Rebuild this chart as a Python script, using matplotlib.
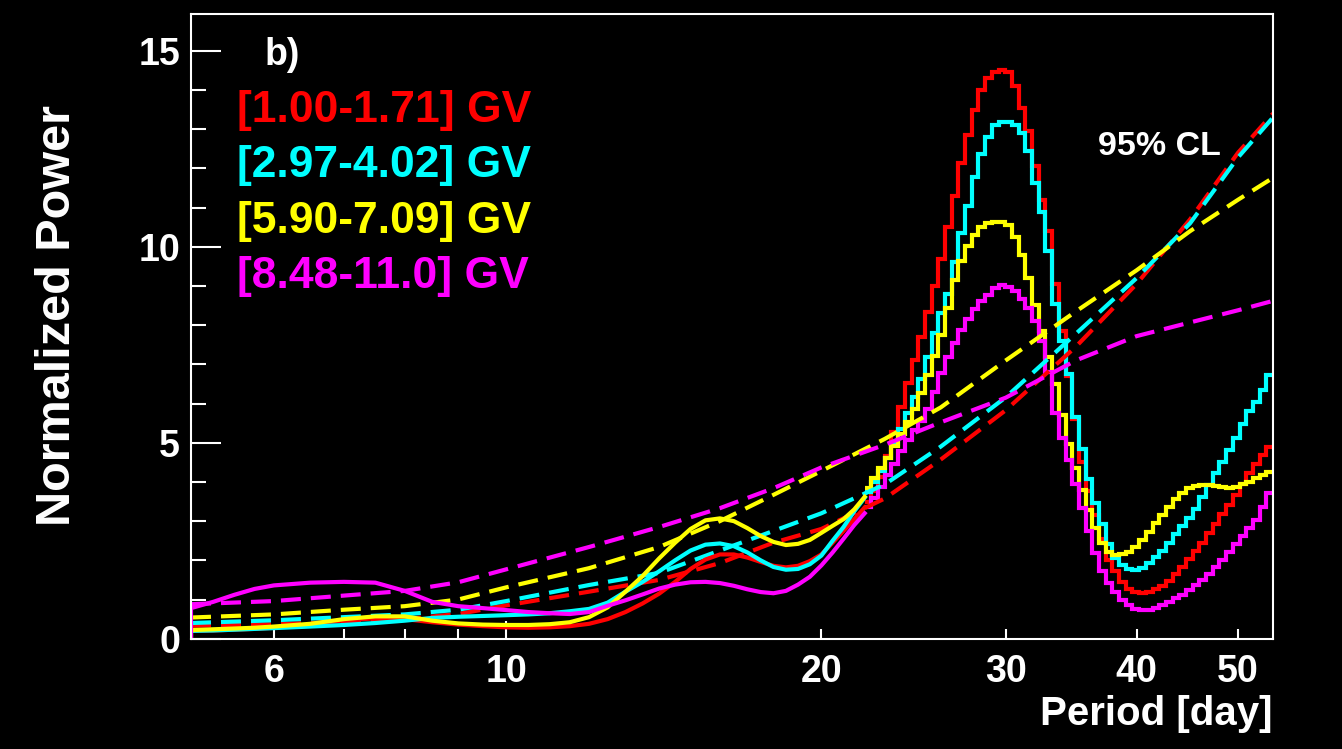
import numpy as np
import matplotlib
matplotlib.use('Agg')
import matplotlib.pyplot as plt
from matplotlib.ticker import FixedLocator, FixedFormatter, NullFormatter

plt.rcParams['font.family'] = ['Liberation Sans', 'DejaVu Sans']
plt.rcParams['font.weight'] = 'bold'

"""-------------------------------- Data -----------------------------------------------"""

labels = ['[1.00-1.71] GV', '[2.97-4.02] GV', '[5.90-7.09] GV', '[8.48-11.0] GV']
colors = ['#ff0000', '#00ffff', '#ffff00', '#ff00ff']

# short periods (smooth part of the periodogram), days
period_lo = [5.0, 5.25, 5.5, 5.75, 6.0, 6.5, 7.0, 7.5, 8.0, 8.5, 9.0, 9.5, 10, 10.5,
             11, 11.5, 12, 12.5, 13, 13.5, 14, 14.5, 15, 15.5, 16, 16.5, 17, 17.5,
             18, 18.5, 19, 19.5, 20, 20.5, 21, 21.5, 22.0]

red_lo = [0.2, 0.21, 0.23, 0.25, 0.28, 0.36, 0.47, 0.52, 0.5, 0.42, 0.36, 0.32, 0.29, 0.28,
          0.29, 0.32, 0.38, 0.5, 0.68, 0.9, 1.15, 1.45, 1.78, 2.02, 2.15, 2.15, 2.07, 1.96,
          1.86, 1.82, 1.86, 1.98, 2.15, 2.45, 2.75, 3.05, 3.35]
cyan_lo = [0.2, 0.21, 0.23, 0.25, 0.27, 0.31, 0.35, 0.4, 0.46, 0.53, 0.56, 0.58, 0.6, 0.62,
           0.65, 0.7, 0.76, 0.92, 1.2, 1.45, 1.72, 2.0, 2.25, 2.4, 2.43, 2.36, 2.2, 2.0,
           1.83, 1.76, 1.78, 1.9, 2.12, 2.5, 2.85, 3.25, 3.6]
yellow_lo = [0.22, 0.24, 0.26, 0.28, 0.31, 0.38, 0.5, 0.57, 0.57, 0.46, 0.39, 0.36, 0.35, 0.35,
             0.37, 0.42, 0.55, 0.8, 1.2, 1.6, 2.05, 2.45, 2.8, 3.02, 3.07, 3.0, 2.82, 2.62,
             2.47, 2.39, 2.42, 2.52, 2.7, 2.88, 3.05, 3.3, 3.62]
magenta_lo = [0.78, 0.94, 1.12, 1.27, 1.36, 1.43, 1.45, 1.43, 1.22, 0.94, 0.83, 0.78, 0.73, 0.68,
              0.65, 0.63, 0.68, 0.84, 0.98, 1.13, 1.28, 1.38, 1.44, 1.45, 1.42, 1.35, 1.26, 1.19,
              1.16, 1.22, 1.38, 1.58, 1.87, 2.2, 2.55, 2.9, 3.2]

# long periods: 61 log-spaced histogram bins between 22 and 54 days
bin_edges = np.logspace(np.log10(22.0), np.log10(54.0), 62)

red_hi = [3.48, 3.78, 4.12, 4.65, 5.28, 5.92, 6.52, 7.1, 7.7, 8.33,
          8.99, 9.7, 10.5, 11.3, 12.13, 12.85, 13.5, 14.0, 14.3, 14.47,
          14.5, 14.45, 14.1, 13.55, 12.95, 12.05, 11.2, 10.4, 9.05, 7.85,
          6.7, 5.6, 4.5, 3.78, 3.15, 2.55, 2.0, 1.74, 1.45, 1.27,
          1.18, 1.16, 1.2, 1.27, 1.35, 1.47, 1.65, 1.83, 2.03, 2.23,
          2.45, 2.7, 2.93, 3.17, 3.41, 3.67, 3.94, 4.22, 4.46, 4.7,
          4.9]
cyan_hi = [3.75, 4.0, 4.28, 4.62, 4.98, 5.36, 5.75, 6.18, 6.62, 7.2,
           7.8, 8.3, 8.8, 9.6, 10.35, 11.05, 11.78, 12.38, 12.81, 13.1,
           13.19, 13.19, 13.12, 12.9, 12.45, 11.62, 10.9, 9.9, 8.55, 7.6,
           6.75, 5.65, 4.85, 4.08, 3.45, 2.93, 2.42, 2.05, 1.88, 1.78,
           1.75, 1.8, 1.93, 2.08, 2.25, 2.45, 2.67, 2.88, 3.08, 3.32,
           3.62, 3.92, 4.22, 4.52, 4.82, 5.13, 5.48, 5.8, 6.05, 6.35,
           6.72]
yellow_hi = [3.85, 4.1, 4.36, 4.62, 4.92, 5.22, 5.52, 5.85, 6.27, 6.72,
             7.22, 7.76, 8.45, 9.15, 9.65, 10.02, 10.3, 10.5, 10.6, 10.64,
             10.64, 10.55, 10.25, 9.78, 9.2, 8.52, 7.85, 7.2, 6.5, 5.7,
             4.98, 4.35, 3.8, 3.28, 2.82, 2.43, 2.22, 2.14, 2.15, 2.22,
             2.35, 2.52, 2.72, 2.95, 3.16, 3.36, 3.56, 3.72, 3.84, 3.89,
             3.92, 3.92, 3.89, 3.87, 3.85, 3.86, 3.94, 4.0, 4.09, 4.17,
             4.25]
magenta_hi = [3.35, 3.6, 3.88, 4.17, 4.45, 4.78, 5.08, 5.32, 5.55, 5.85,
              6.3, 6.77, 7.2, 7.55, 7.88, 8.16, 8.4, 8.61, 8.78, 8.95,
              9.02, 8.97, 8.86, 8.68, 8.45, 8.1, 7.6, 6.8, 5.75, 5.12,
              4.55, 3.95, 3.34, 2.74, 2.18, 1.72, 1.42, 1.18, 1.0, 0.87,
              0.77, 0.73, 0.74, 0.78, 0.85, 0.94, 1.03, 1.12, 1.23, 1.37,
              1.5, 1.65, 1.83, 2.0, 2.2, 2.41, 2.63, 2.82, 3.03, 3.35,
              3.72]

# 95% confidence levels
period_cl = [5, 6, 7, 8, 9, 10, 12, 14, 16, 18, 20, 23, 26, 30, 35, 40, 45, 50, 54]
red_cl = [0.33, 0.37, 0.43, 0.5, 0.63, 0.85, 1.2, 1.5, 1.93, 2.45, 2.8, 3.58, 4.57, 5.83,
          7.45, 9.05, 10.7, 12.4, 13.4]
cyan_cl = [0.4, 0.47, 0.55, 0.62, 0.74, 0.96, 1.37, 1.68, 2.25, 2.75, 3.2, 3.94, 4.9, 6.16,
           7.78, 9.2, 10.6, 12.28, 13.3]
yellow_cl = [0.54, 0.62, 0.74, 0.83, 1.0, 1.31, 1.8, 2.34, 3.0, 3.67, 4.28, 5.1, 5.9, 7.1,
             8.35, 9.4, 10.4, 11.2, 11.76]
magenta_cl = [0.88, 0.96, 1.1, 1.22, 1.44, 1.77, 2.34, 2.85, 3.33, 3.84, 4.37, 4.95, 5.52, 6.15,
              7.1, 7.72, 8.07, 8.38, 8.62]

"""-------------------------------- Plot -----------------------------------------------"""

W, H = 1342, 749
fig = plt.figure(figsize=(W / 100, H / 100), dpi=100, facecolor='black')
ax = fig.add_axes([191 / W, 1 - 638.7 / H, (1273 - 191) / W, (638.7 - 14) / H])
ax.set_facecolor('black')

curves_lo = [red_lo, cyan_lo, yellow_lo, magenta_lo]
curves_hi = [red_hi, cyan_hi, yellow_hi, magenta_hi]
curves_cl = [red_cl, cyan_cl, yellow_cl, magenta_cl]

for c, cl in zip(colors, curves_cl):
    ax.plot(period_cl, cl, color=c, lw=3, linestyle=(0, (4.8, 2.4)))

for c, lo, hi in zip(colors, curves_lo, curves_hi):
    # histogram rises from zero at the first bin edge
    ax.plot([period_lo[0]] + period_lo, [0] + lo, color=c, lw=3)
    ax.stairs(hi, bin_edges, baseline=None, color=c, lw=3)

ax.set_xscale('log')
ax.set_xlim(5, 54.0)
ax.set_ylim(0, 15.94)

ax.xaxis.set_major_locator(FixedLocator([6, 10, 20, 30, 40, 50]))
ax.xaxis.set_minor_locator(FixedLocator([7, 8, 9]))
ax.xaxis.set_major_formatter(FixedFormatter(['6', '10', '20', '30', '40', '50']))
ax.xaxis.set_minor_formatter(NullFormatter())
ax.yaxis.set_major_locator(FixedLocator([0, 5, 10, 15]))
ax.yaxis.set_minor_locator(FixedLocator([1, 2, 3, 4, 6, 7, 8, 9, 11, 12, 13, 14]))

ax.tick_params(axis='both', which='both', direction='in', colors='white', width=1.5,
               top=False, right=False)
ax.tick_params(axis='x', which='both', length=7.2, pad=11, labelsize=27)
ax.tick_params(axis='y', which='major', length=21.6, pad=8, labelsize=27)
ax.tick_params(axis='y', which='minor', length=10.8)
for lab in ax.get_xticklabels() + ax.get_yticklabels():
    lab.set_fontweight('bold')
ax.xaxis.get_major_ticks()[1].tick1line.set_markersize(13)

for s in ax.spines.values():
    s.set_color('white')
    s.set_linewidth(1.5)

fig.text(58 / W, 1 - 316 / H, 'Normalized Power', rotation=90, color='white',
         fontsize=35, fontweight='bold', ha='center', va='center')
fig.text(1272 / W, 1 - 714 / H, 'Period [day]', color='white',
         fontsize=29, fontweight='bold', ha='right', va='center')

fig.text(265 / W, 1 - 65 / H, 'b)', color='white', fontsize=27, fontweight='bold',
         ha='left', va='baseline')
for i, (lab, c) in enumerate(zip(labels, colors)):
    fig.text(237 / W, 1 - (121.7 + 55.5 * i) / H, lab, color=c, fontsize=32,
             fontweight='bold', ha='left', va='baseline')
fig.text(1098 / W, 1 - 155 / H, '95% CL', color='white', fontsize=24.5,
         fontweight='bold', ha='left', va='baseline')

fig.savefig('out.png', dpi=100, facecolor='black')
